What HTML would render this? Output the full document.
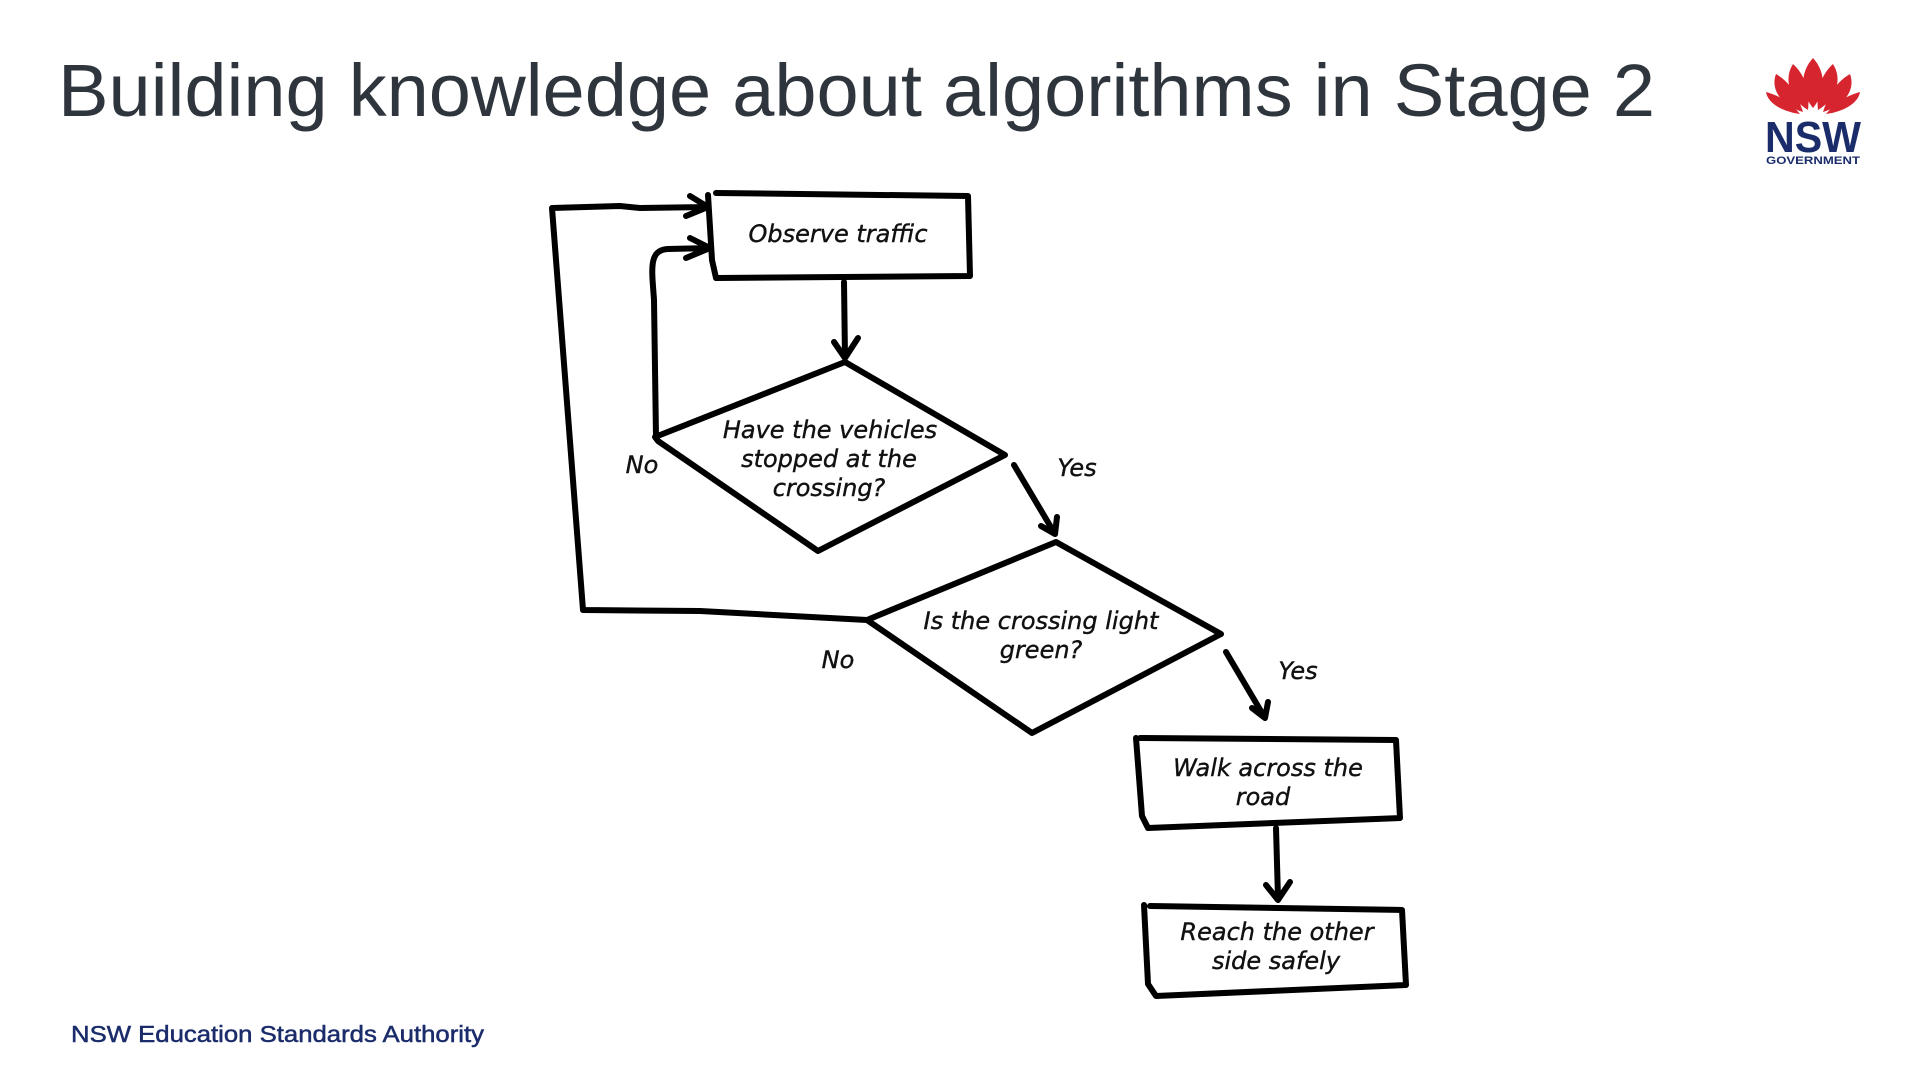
<!DOCTYPE html>
<html><head><meta charset="utf-8"><style>
html,body{margin:0;padding:0;background:#fff;width:1920px;height:1080px;overflow:hidden}
</style></head><body>
<svg width="1920" height="1080" viewBox="0 0 1920 1080" xmlns="http://www.w3.org/2000/svg">
<text x="58" y="116" font-family="Liberation Sans, sans-serif" font-size="74" fill="#2f353d" textLength="1597" lengthAdjust="spacingAndGlyphs">Building knowledge about algorithms in Stage 2</text>
<!-- logo -->
<g fill="#d7252f">
<path d="M1813 58 C1800 72 1800 92 1813 108 C1826 92 1826 72 1813 58Z"/>
<path d="M1793 64 C1784 78 1788 98 1808 110 C1810 92 1806 76 1793 64Z"/>
<path d="M1833 64 C1842 78 1838 98 1818 110 C1816 92 1820 76 1833 64Z"/>
<path d="M1776 74 C1770 90 1782 106 1803 112 C1798 96 1790 82 1776 74Z"/>
<path d="M1850 74 C1856 90 1844 106 1823 112 C1828 96 1836 82 1850 74Z"/>
<path d="M1766 92 C1768 104 1784 112 1800 114 C1790 102 1780 96 1766 92Z"/>
<path d="M1860 92 C1858 104 1842 112 1826 114 C1836 102 1846 96 1860 92Z"/>
</g>
<text x="1813" y="152" text-anchor="middle" font-family="Liberation Sans, sans-serif" font-weight="bold" font-size="44" fill="#1b2c6b" textLength="96" lengthAdjust="spacingAndGlyphs">NSW</text>
<text x="1813" y="164" text-anchor="middle" font-family="Liberation Sans, sans-serif" font-weight="bold" font-size="11" fill="#1b2c6b" textLength="94" lengthAdjust="spacingAndGlyphs">GOVERNMENT</text>
<g fill="none" stroke="#000" stroke-width="6" stroke-linecap="round" stroke-linejoin="round">
<path d="M716 193 L968 196 L970 276 L716 278 L712 260 L708 195"/>
<path d="M844 282 L845 358 M834 342 L845 358 L858 338"/>
<path d="M845 362 L1005 455 L818 551 L658 441 L655 437 Z"/>
<path d="M656 437 L654 300 C652 270 648 250 668 249 L710 248 M690 238 L710 248 L686 258"/>
<path d="M708 207 L640 208 L620 206 L552 208 L583 610 L700 611 L867 620 M690 196 L708 207 L686 216"/>
<path d="M1056 542 L1221 634 L1032 733 L867 620 Z"/>
<path d="M1014 465 L1055 534 M1041 526 L1055 534 L1057 517"/>
<path d="M1226 652 L1265 718 M1252 708 L1265 718 L1268 702"/>
<path d="M1140 738 L1396 740 L1400 818 L1148 828 L1142 816 L1136 738"/>
<path d="M1276 828 L1278 898 M1266 885 L1278 900 L1290 882"/>
<path d="M1150 906 L1402 910 L1406 985 L1156 996 L1148 984 L1144 905"/>
</g>
<g font-family="DejaVu Sans, sans-serif" font-style="italic" font-size="24" fill="#111" text-anchor="middle" stroke="#111" stroke-width="0.4">
<text x="838" y="242">Observe traffic</text>
<text x="830" y="438">Have the vehicles</text>
<text x="829" y="467">stopped at the</text>
<text x="829" y="496">crossing?</text>
<text x="1041" y="629">Is the crossing light</text>
<text x="1041" y="658">green?</text>
<text x="1268" y="776">Walk across the</text>
<text x="1263" y="805">road</text>
<text x="1277" y="940">Reach the other</text>
<text x="1276" y="969">side safely</text>
<text x="642" y="473">No</text>
<text x="1077" y="476">Yes</text>
<text x="838" y="668">No</text>
<text x="1298" y="679">Yes</text>
</g>
<text x="71" y="1042" font-family="Liberation Sans, sans-serif" font-size="23" fill="#1b2c6b" stroke="#1b2c6b" stroke-width="0.5" textLength="413" lengthAdjust="spacingAndGlyphs">NSW Education Standards Authority</text>
</svg>
</body></html>
